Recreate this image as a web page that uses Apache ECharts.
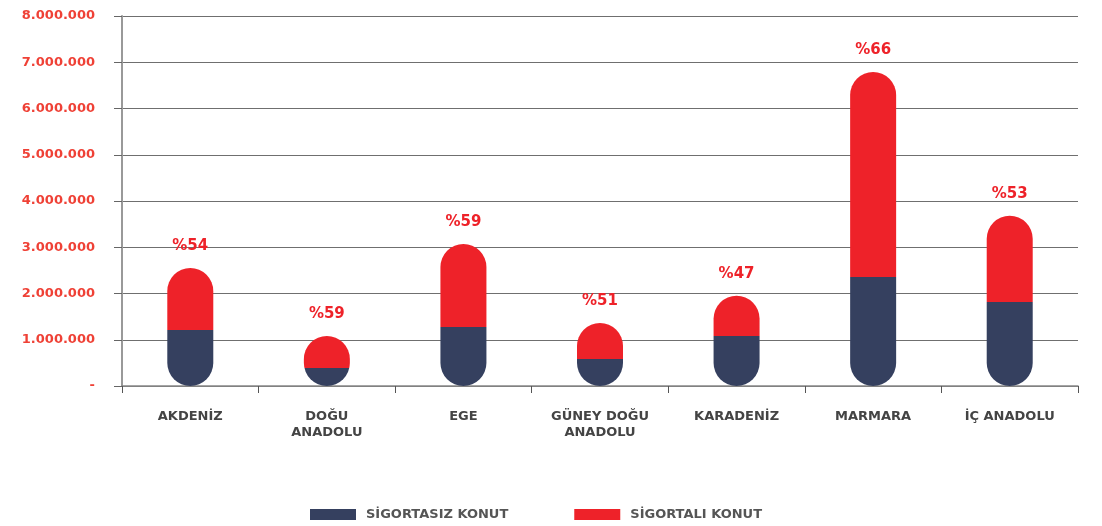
<!DOCTYPE html>
<html>
<head>
<meta charset="utf-8">
<script src="https://cdn.jsdelivr.net/npm/echarts@6/dist/echarts.min.js"></script>
<style>
  html, body { margin: 0; padding: 0; background: #fff; }
  #chart { width: 1102px; height: 526px; }
</style>
</head>
<body>
<div id="chart"></div>
<script>
// regions and values
const regions = ['AKDENİZ', 'DOĞU\nANADOLU', 'EGE', 'GÜNEY DOĞU\nANADOLU', 'KARADENİZ', 'MARMARA', 'İÇ ANADOLU'];
const uninsured = [1210000, 390000, 1280000, 580000, 1080000, 2360000, 1820000];
const insured = [1340000, 690000, 1790000, 780000, 870000, 4430000, 1860000];
const shareLabels = ['%54', '%59', '%59', '%51', '%47', '%66', '%53'];
const yTickLabels = ['-', '1.000.000', '2.000.000', '3.000.000', '4.000.000', '5.000.000', '6.000.000', '7.000.000', '8.000.000'];

const NAVY = '#35405f';
const RED = '#ee2229';
const FONT = 'DejaVu Sans';

// one capsule per region, coloured by a hard-stop gradient at the split
const totals = insured.map((v, i) => ({
   value: v + uninsured[i],
   itemStyle: {
      color: new echarts.graphic.LinearGradient(0, 0, 0, 1, [
         { offset: 0, color: RED },
         { offset: v / (v + uninsured[i]), color: RED },
         { offset: v / (v + uninsured[i]), color: NAVY },
         { offset: 1, color: NAVY }
      ])
   }
}));

const chart = echarts.init(document.getElementById('chart'));
chart.setOption({
   animation: false,
   grid: { left: 122, right: 24, top: 16, bottom: 140 },
   legend: {
      left: 310,
      top: 508,
      padding: 0,
      itemWidth: 46,
      itemHeight: 11,
      itemGap: 66,
      icon: 'rect',
      textStyle: { fontFamily: FONT, fontWeight: 'bold', fontSize: 13, color: '#555', padding: [0, 0, 0, 5] },
      data: [
         { name: 'SİGORTASIZ KONUT', itemStyle: { color: NAVY, opacity: 1 } },
         { name: 'SİGORTALI KONUT', itemStyle: { color: RED, opacity: 1 } }
      ]
   },
   xAxis: {
      type: 'category',
      data: regions,
      axisLine: { lineStyle: { color: '#888', width: 1.5 } },
      axisTick: { show: true, length: 7, lineStyle: { color: '#555' } },
      axisLabel: {
         margin: 23,
         fontFamily: FONT,
         fontWeight: 'bold',
         fontSize: 13,
         lineHeight: 16,
         color: '#444'
      }
   },
   yAxis: {
      type: 'value',
      min: 0,
      max: 8000000,
      interval: 1000000,
      axisLine: { show: true, lineStyle: { color: '#999', width: 2 } },
      axisTick: { show: true, length: 8, lineStyle: { color: '#666' } },
      splitLine: { lineStyle: { color: '#6f6f6f' } },
      axisLabel: {
         margin: 27,
         fontFamily: FONT,
         fontWeight: 'bold',
         fontSize: 13,
         color: '#ef4136',
         formatter: (v) => yTickLabels[Math.round(v / 1000000)]
      }
   },
   series: [
      {
         name: 'SİGORTASIZ KONUT',
         type: 'bar',
         barWidth: 46,
         barGap: '-100%',
         data: uninsured,
         itemStyle: { color: NAVY, opacity: 0 },
         silent: true,
         z: 1
      },
      {
         name: 'SİGORTALI KONUT',
         type: 'bar',
         barWidth: 46,
         data: totals,
         itemStyle: { color: RED, borderRadius: 23 },
         label: {
            show: true,
            position: 'top',
            distance: 14,
            fontFamily: FONT,
            fontWeight: 'bold',
            fontSize: 15,
            color: RED,
            formatter: (p) => shareLabels[p.dataIndex]
         },
         z: 2
      }
   ]
});
</script>
</body>
</html>
